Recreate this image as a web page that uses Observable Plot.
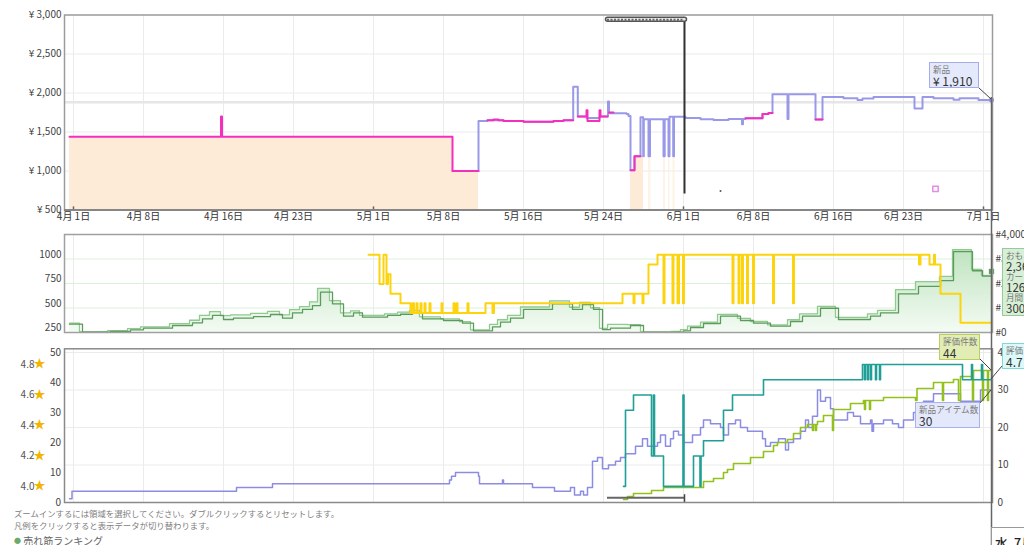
<!DOCTYPE html>
<html><head><meta charset="utf-8">
<script src="https://cdn.jsdelivr.net/npm/d3@7"></script>
<script src="https://cdn.jsdelivr.net/npm/@observablehq/plot@0.6"></script>
<style>
body{margin:0;background:#fff;font-family:"Noto Sans CJK JP","Noto Sans",sans-serif;}
#wrap{position:relative;width:1024px;height:545px;overflow:hidden;background:#fff;}
.panel{position:absolute;left:0;}
.panel svg{overflow:visible;}
.tip{position:absolute;box-sizing:border-box;border:1px solid;padding:1px 3px;white-space:nowrap;overflow:hidden;}
.tip .k{font-size:8.6px;line-height:10.5px;color:#7a7a7a;display:block;}
.tip .v{font-size:12px;line-height:12.5px;color:#333;display:block;}
.tip.tight .k{line-height:9.6px;}
.tip.tight .v{font-size:11.5px;line-height:11.6px;}
.note{position:absolute;left:14px;font-size:8.4px;color:#808080;white-space:nowrap;}
#overlay{position:absolute;left:0;top:0;pointer-events:none;}
</style></head><body>
<div id="wrap">
  <div class="panel" id="p1" style="top:0"></div>
  <div class="panel" id="p2" style="top:226px"></div>
  <div class="panel" id="p3" style="top:336px"></div>
  <svg id="overlay" width="1024" height="545"></svg>
  <div class="tip" style="left:929px;top:62px;width:50px;height:26px;background:#e4e9fb;border-color:#a4acec"><span class="k">新品</span><span class="v">¥ 1,910</span></div>
  <div class="tip tight" style="left:1002px;top:248px;width:40px;height:68px;background:#d6efd6;border-color:#99c899;padding-top:2px"><span class="k">おも</span><span class="v">2,36</span><span class="k">カー</span><span class="v">126</span><span class="k">月間</span><span class="v">300</span></div>
  <div class="tip" style="left:939px;top:334px;width:41px;height:26px;background:#e2edb5;border-color:#b9d060"><span class="k">評価件数</span><span class="v">44</span></div>
  <div class="tip" style="left:1002px;top:343px;width:40px;height:26px;background:#dcf8f8;border-color:#7fd8d8"><span class="k">評価</span><span class="v">4.7</span></div>
  <div class="tip" style="left:915px;top:402px;width:65px;height:26px;background:#e4e8fb;border-color:#a9b1ec"><span class="k">新品アイテム数</span><span class="v">30</span></div>
  <div class="note" style="top:507px">ズームインするには領域を選択してください。ダブルクリックするとリセットします。</div>
  <div class="note" style="top:519px">凡例をクリックすると表示データが切り替わります。</div>
  <div class="note" style="top:533px;font-size:10px;color:#666"><span style="color:#6aaa6a;font-size:7px;vertical-align:2px">●</span> 売れ筋ランキング</div>
  <div style="position:absolute;left:991px;top:527px;width:50px;height:25px;border:1px solid #999;background:#fff;box-sizing:border-box;font-size:12.5px;color:#222;padding:5px 0 0 3px;white-space:nowrap;font-weight:500">水, 7月</div>
</div>
<script>
// ---------- shared x axis (days since 4月1日) ----------
const xDomain = [-0.9, 91.9];
const tickDays = [0,7,15,22,30,37,45,53,61,68,76,83,91];
const tickLabels = ["4月 1日","4月 8日","4月 16日","4月 23日","5月 1日","5月 8日","5月 16日","5月 24日","6月 1日","6月 8日","6月 16日","6月 23日","7月 1日"];
const monthStartDays = [0,30,61,91];
const cursorDay = 61.1;
const navStart = 53.4, navEnd = 61.1;

// ---------- panel 1: prices ----------
const priceTicks = [500,1000,1500,2000,2500,3000];
const listPrice = 1880;
const amazonSegments = [
  [[-0.4,1440],[37.9,1000],[40.5,1000]],
  [[55.7,1010],[56.1,1190],[57.0,1190]]
];
const amazonFaintSegments = [
  [[57.5,1190],[57.75,1190]],[[59.0,1190],[59.2,1190]],[[59.5,1190],[59.65,1190]],[[59.95,1190],[60.15,1190]]
];
const buyBoxSegments = [
  [[-0.4,1440],[14.75,1700],[14.85,1440],[37.9,1000],[40.5,1000]],
  [[41.4,1650],[42.0,1660],[42.5,1650],[43.0,1640],[45.0,1630],[48.0,1640],[49.0,1650],[49.97,1650]],
  [[50.43,1700],[51.3,1780],[51.4,1640],[52.6,1780],[52.7,1700],[53.4,1700]],
  [[53.55,1750],[54.0,1750]],
  [[55.7,1010],[56.1,1190],[56.7,1190]],
  [[67.2,1675],[68.9,1730],[69.5,1745],[69.9,1745]],
  [[74.2,1660],[74.9,1660]]
];
const newPrice = [[37.9,1000],[40.5,1640],[41.4,1650],[43.0,1640],[45.0,1630],[48.0,1640],[49.0,1650],[49.97,2080],[50.43,1700],[51.3,1680],[52.6,1700],[53.45,1890],[53.55,1740],[55.3,1730],[55.5,1705],[55.7,1010],[56.1,1190],[56.7,1690],[56.97,1190],[57.03,1665],[57.5,1190],[57.65,1665],[59.0,1190],[59.12,1665],[59.5,1190],[59.6,1695],[59.97,1190],[60.05,1695],[61.2,1680],[62.7,1662],[64.0,1655],[65.5,1668],[66.85,1600],[66.95,1668],[67.2,1675],[68.9,1730],[69.5,1745],[69.9,1985],[71.4,1667],[71.5,1985],[74.2,1660],[74.9,1950],[77.0,1932],[78.4,1910],[78.9,1930],[80.0,1950],[84.1,1800],[84.9,1950],[86.0,1932],[88.0,1915],[88.6,1932],[90.5,1910],[91.8,1910]];
const usedMarks = [[64.7,745]];
const collectibleMarks = [[86.2,770]];

// ---------- panel 2: ranks & monthly sold ----------
const rankTicks = [0,1000,2000,3000,4000];
const soldTicks = [250,500,750,1000];
const salesRank = [[-0.4,340],[0.9,15],[3.7,40],[5.7,110],[7.0,176],[9.9,285],[11.9,395],[12.9,560],[13.9,695],[15.0,530],[16.0,585],[18.0,650],[19.7,735],[20.9,585],[21.9,800],[22.9,940],[23.9,1100],[24.7,1645],[25.9,1170],[27.0,665],[28.0,800],[28.9,625],[31.4,695],[32.7,745],[33.9,800],[34.9,560],[37.0,490],[38.9,380],[40.0,70],[41.9,230],[42.7,420],[43.7,585],[45.0,940],[47.9,1170],[49.9,940],[50.9,1140],[52.0,940],[52.9,120],[53.7,176],[55.7,285],[57.0,5],[60.0,12],[61.0,70],[61.7,204],[63.0,367],[64.7,665],[66.7,490],[68.0,380],[69.7,257],[71.7,450],[72.9,665],[74.7,990],[76.5,530],[79.7,665],[80.7,800],[82.5,1580],[84.5,1880],[86.7,2120],[88.0,3300],[89.9,2520],[90.9,2300],[91.8,2300]];
const salesRank2 = [[-0.4,380],[0.6,30],[3.4,80],[5.4,160],[6.7,230],[9.6,360],[11.6,500],[12.6,700],[13.6,850],[14.7,690],[15.7,720],[17.7,780],[19.4,860],[20.6,720],[21.6,930],[22.6,1060],[23.6,1250],[24.4,1800],[25.6,1300],[26.7,800],[27.7,880],[28.6,700],[31.1,760],[32.4,830],[33.6,900],[34.6,640],[36.7,560],[38.6,440],[39.7,110],[41.6,330],[42.4,520],[43.4,700],[44.7,1040],[47.6,1290],[49.6,1030],[50.6,1230],[51.7,1010],[52.6,170],[53.4,330],[55.4,320],[56.7,30],[59.7,40],[60.7,120],[61.4,260],[62.7,420],[64.4,740],[66.4,580],[67.7,450],[69.4,310],[71.4,520],[72.6,760],[74.4,1070],[76.2,620],[79.4,760],[80.4,900],[82.2,1750],[84.2,2080],[86.6,2290],[87.9,3380],[89.8,2580],[90.8,2330],[91.8,2330]];
const monthlySold = [[29.5,1000],[30.6,700],[31.0,1000],[31.3,700],[31.45,800],[31.7,600],[32.7,500],[33.7,400],[33.9,500],[34.05,400],[34.3,500],[34.4,400],[34.7,500],[34.8,400],[35.1,500],[35.2,400],[35.6,500],[35.7,400],[36.8,500],[36.9,400],[38.0,500],[38.1,400],[38.3,500],[38.4,400],[39.4,500],[39.5,400],[41.2,500],[41.9,400],[42.05,500],[54.9,600],[56.0,500],[56.1,600],[56.9,500],[57.0,600],[57.5,900],[58.4,1000],[59.0,500],[59.1,1000],[59.9,500],[60.0,1000],[60.4,500],[60.55,1000],[60.95,500],[61.05,1000],[65.9,500],[66.0,1000],[66.5,500],[66.6,1000],[66.85,500],[66.95,1000],[67.35,500],[67.45,1000],[67.95,500],[68.05,1000],[69.95,500],[70.05,1000],[71.95,500],[72.05,1000],[84.55,900],[84.7,1000],[85.6,900],[86.05,1000],[86.15,900],[86.7,600],[88.7,300],[91.8,300]];
const soldToRank = v => 3.966 * v - 794;

// ---------- panel 3: offers, rating, review count ----------
const countTicks = [0,10,20,30,40,50];
const offerTicks = [0,10,20,30,40];
const ratingTicks = [4.0,4.2,4.4,4.6,4.8];
const offerCount = [[-0.4,1],[-0.15,3],[16.3,4],[19.9,5],[37.6,6],[37.8,7],[38.2,8],[40.5,7],[40.6,5],[42.9,6],[43.0,5],[45.9,4],[48.1,3],[49.7,4],[50.1,2],[50.7,3],[51.0,2],[51.4,4],[51.9,11],[52.4,12],[52.9,9],[53.5,10],[54.2,11],[54.7,12],[55.2,13],[56.2,15],[56.9,17],[57.4,15],[58.4,16],[58.7,18],[59.2,15],[59.7,17],[60.0,19],[60.5,18],[61.0,16],[61.9,18],[62.7,20],[63.0,22],[63.7,21],[64.7,20],[65.0,18],[65.5,21],[66.2,22],[66.7,20],[67.4,19],[68.9,17],[69.2,15],[69.7,16],[70.5,17],[71.2,14],[71.5,16],[72.0,17],[72.7,19],[73.2,22],[73.5,20],[73.9,23],[74.4,30],[74.7,27],[75.2,28],[75.7,25],[76.0,22],[77.4,24],[78.0,23],[78.7,21],[79.7,22],[79.85,19],[80.0,21],[81.0,22],[81.9,21],[82.5,20],[83.0,22],[84.0,24],[85.0,27],[86.0,29],[88.7,27],[90.7,30],[91.8,30]];
const rating = [[55.0,4.0],[55.2,4.5],[56.0,4.6],[57.8,4.2],[58.0,4.6],[58.1,4.2],[59.0,4.0],[60.95,4.6],[61.05,4.0],[62.0,4.2],[62.65,4.0],[62.75,4.2],[63.0,4.3],[65.0,4.5],[65.9,4.6],[69.0,4.7],[78.9,4.8],[79.1,4.7],[79.2,4.8],[79.4,4.7],[79.5,4.8],[79.7,4.7],[79.8,4.8],[80.2,4.7],[80.3,4.8],[80.6,4.7],[80.7,4.8],[88.9,4.7],[89.8,4.8],[89.9,4.7],[90.8,4.8],[90.9,4.7],[91.8,4.7]];
const reviewCount = [[55.0,1],[55.4,2],[56.0,3],[57.8,4],[59.0,5],[63.0,7],[64.0,8],[65.0,10],[65.4,11],[66.0,13],[67.7,15],[69.0,17],[70.0,19],[70.4,20],[71.4,21],[72.0,23],[72.7,25],[73.4,26],[73.9,24],[74.0,26],[74.2,24],[74.3,26],[74.4,27],[75.0,29],[75.9,24],[76.0,31],[77.7,33],[79.0,34],[79.1,31],[79.2,34],[79.6,31],[79.7,34],[81.0,35],[84.2,34],[84.35,38],[86.0,40],[86.9,34],[87.0,40],[88.0,41],[88.5,34],[88.7,42],[89.9,34],[90.0,44],[90.9,34],[91.0,44],[91.4,34],[91.5,44],[91.8,44]];
const offerToCount = o => o * 1.25;
const ratingToCount = r => 46 - (4.8 - r) * 50.8;

// ---------- helpers ----------
const segRows = segs => segs.flatMap((s, i) => s.map(([d, v]) => ({d, v, s: i})));
const font = '"Noto Sans CJK JP","Noto Sans",sans-serif';
const baseStyle = {fontFamily: font, fontSize: "10px", color: "#444", background: "transparent", overflow: "visible"};
const vGrid = Plot.ruleX(tickDays, {stroke: "#ebebeb", strokeWidth: 1});
const lookup = (ticks, f) => d => ticks.find(v => Math.abs(f(v) - d) < 1e-6);

// ---------- panel 1 ----------
const p1 = Plot.plot({
  width: 1024, height: 226, marginLeft: 64, marginRight: 32, marginTop: 14.5, marginBottom: 16.5,
  style: baseStyle,
  x: {domain: xDomain, axis: null},
  y: {domain: [500, 3000], axis: null},
  marks: [
    vGrid,
    Plot.ruleY(priceTicks.slice(1, -1), {stroke: "#ebebeb"}),
    Plot.ruleY([listPrice], {stroke: "#e6e6e6", strokeWidth: 2.5}),
    Plot.areaY(segRows(amazonSegments), {x: "d", y1: 500, y2: "v", z: "s", curve: "step-after", fill: "#fdebd8"}),
    Plot.areaY(segRows(amazonFaintSegments), {x: "d", y1: 500, y2: "v", z: "s", curve: "step-after", fill: "#fdebd8", fillOpacity: 0.6}),
    Plot.line(newPrice, {x: d => d[0], y: d => d[1], curve: "step-after", stroke: "#8e8ee6", strokeWidth: 2, strokeOpacity: 0.9}),
    Plot.line(segRows(buyBoxSegments), {x: "d", y: "v", z: "s", curve: "step-after", stroke: "#f52fbd", strokeWidth: 2}),
    Plot.dot(usedMarks, {x: d => d[0], y: d => d[1], r: 1, fill: "#555"}),
    Plot.dot(collectibleMarks, {x: d => d[0], y: d => d[1], symbol: "square", r: 3, stroke: "#e58ce5", strokeWidth: 1.5}),
    Plot.ruleX([cursorDay], {y1: 705, y2: 2925, stroke: "#333", strokeWidth: 2}),
    Plot.rect([[navStart - 0.15, navEnd + 0.25]], {x1: d => d[0], x2: d => d[1], y1: 2915, y2: 2965, rx: 2, fill: "#e8e8e8", stroke: "#555", strokeWidth: 1.5}),
    Plot.ruleY([2940], {x1: navStart, x2: navEnd, stroke: "#666", strokeWidth: 2, strokeDasharray: "2,1.5"}),
    Plot.dot([newPrice[newPrice.length - 1]], {x: d => d[0], y: d => d[1], r: 2.5, fill: "#8e8ee6"}),
    Plot.ruleX(monthStartDays, {y1: 500, y2: 540, stroke: "#666", strokeWidth: 1.5}),
    Plot.frame({stroke: "#9b9b9b", strokeWidth: 1.5}),
    Plot.ruleY([500], {stroke: "#777", strokeWidth: 1.5}),
    Plot.axisX({ticks: tickDays, tickFormat: d => tickLabels[tickDays.indexOf(d)], tickSize: 0, tickPadding: 2.5, fill: "#333", label: null}),
    Plot.axisY({ticks: priceTicks, tickFormat: d => "¥ " + d3.format(",")(d), tickSize: 0, tickPadding: 3, fill: "#444", label: null})
  ]
});
document.getElementById("p1").append(p1);

// ---------- panel 2 ----------
const gradient = () => {
  const defs = d3.create("svg:defs");
  const g = defs.append("linearGradient").attr("id", "rankFill").attr("gradientUnits", "userSpaceOnUse")
    .attr("x1", 0).attr("x2", 0).attr("y1", 8).attr("y2", 106);
  g.append("stop").attr("offset", "0%").attr("stop-color", "#b5dfb5");
  g.append("stop").attr("offset", "100%").attr("stop-color", "#f4fbf4");
  return defs.node();
};
const p2 = Plot.plot({
  width: 1024, height: 110, marginLeft: 64, marginRight: 32, marginTop: 8, marginBottom: 4,
  style: baseStyle,
  x: {domain: xDomain, axis: null},
  y: {domain: [0, 4000], axis: null},
  marks: [
    gradient,
    vGrid,
    Plot.ruleY(rankTicks.slice(1, -1), {stroke: "#d8f2d8"}),
    Plot.areaY(salesRank2, {x: d => d[0], y1: 0, y2: d => d[1], curve: "step-after", fill: "url(#rankFill)"}),
    Plot.line(salesRank2, {x: d => d[0], y: d => d[1], curve: "step-after", stroke: "#8fca8f", strokeWidth: 1.3}),
    Plot.line(salesRank, {x: d => d[0], y: d => d[1], curve: "step-after", stroke: "#5b9b5b", strokeWidth: 1.3}),
    Plot.line(monthlySold, {x: d => d[0], y: d => soldToRank(d[1]), curve: "step-after", stroke: "#fcd30c", strokeWidth: 2}),
    Plot.dot([[91.8, 2490]], {x: d => d[0], y: d => d[1], symbol: "square", r: 3, fill: "#5f9f5f"}),
    Plot.frame({stroke: "#a0a0a0", strokeWidth: 1.5}),
    Plot.axisY({anchor: "left", ticks: soldTicks.map(soldToRank), tickFormat: d => String(lookup(soldTicks, soldToRank)(d)), tickSize: 0, tickPadding: 3, fill: "#444", label: null}),
    Plot.axisY({anchor: "right", ticks: rankTicks, tickFormat: d => "#" + d3.format(",")(d), tickSize: 0, tickPadding: 3, fill: "#444", label: null})
  ]
});
document.getElementById("p2").append(p2);

// ---------- panel 3 ----------
const p3 = Plot.plot({
  width: 1024, height: 170, marginLeft: 64, marginRight: 32, marginTop: 12.3, marginBottom: 4,
  style: baseStyle,
  x: {domain: xDomain, axis: null},
  y: {domain: [0, 51.23], axis: null},
  marks: [
    vGrid,
    Plot.ruleY(offerTicks.slice(1).map(offerToCount), {stroke: "#ebebeb"}),
    Plot.line(offerCount, {x: d => d[0], y: d => offerToCount(d[1]), curve: "step-after", stroke: "#8c8ce2", strokeWidth: 1.5}),
    Plot.line(reviewCount, {x: d => d[0], y: d => d[1], curve: "step-after", stroke: "#93c11b", strokeWidth: 1.6}),
    Plot.line(rating, {x: d => d[0], y: d => ratingToCount(d[1]), curve: "step-after", stroke: "#1f9f96", strokeWidth: 1.6}),
    Plot.ruleY([1.6], {x1: navStart, x2: navEnd, stroke: "#666", strokeWidth: 2}),
    Plot.ruleX([cursorDay], {y1: 0, y2: 2.6, stroke: "#444", strokeWidth: 1.5}),
    Plot.frame({stroke: "#8a8a8a", strokeWidth: 1.5}),
    Plot.axisY({anchor: "left", ticks: countTicks, tickFormat: d => String(d), tickSize: 0, tickPadding: 3.5, fill: "#444", label: null}),
    Plot.axisY({anchor: "left", ticks: ratingTicks.map(ratingToCount), tickFormat: d => lookup(ratingTicks, ratingToCount)(d).toFixed(1), tickSize: 0, tickPadding: 30, fill: "#555", letterSpacing: "-0.3px", label: null}),
    Plot.axisY({anchor: "left", ticks: ratingTicks.map(ratingToCount), tickFormat: () => "★", tickSize: 0, tickPadding: 19, fill: "#f3b400", fontSize: 12, label: null}),
    Plot.axisY({anchor: "right", ticks: offerTicks.map(offerToCount), tickFormat: d => String(lookup(offerTicks, offerToCount)(d)), tickSize: 0, tickPadding: 5, fill: "#444", label: null})
  ]
});
document.getElementById("p3").append(p3);

// ---------- overlay: hover crosshair and tooltip pointers ----------
const ov = d3.select("#overlay");
const ln = (x1, y1, x2, y2, c, w) => ov.append("line").attr("x1", x1).attr("y1", y1).attr("x2", x2).attr("y2", y2).attr("stroke", c).attr("stroke-width", w);
ln(991.5, 97, 991.5, 545, "#666", 1.5);
ln(979, 88, 991, 99, "#444", 1);
ln(980, 359, 991, 370, "#444", 1);
ln(1002, 366, 991, 379, "#444", 1);
ln(980, 403, 991, 390, "#444", 1);
</script>
</body></html>
